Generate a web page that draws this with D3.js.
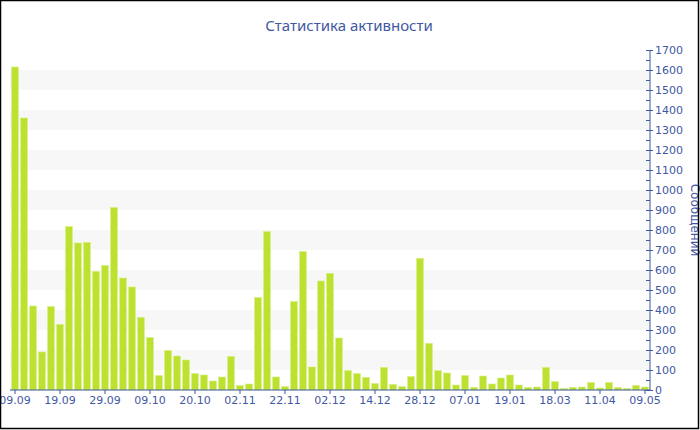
<!DOCTYPE html>
<html><head><meta charset="utf-8">
<script src="https://cdn.jsdelivr.net/npm/d3@7"></script>
<style>html,body{margin:0;padding:0;background:#fff;}svg{display:block;}</style>
</head><body>
<svg id="c" width="700" height="430"></svg>
<script>
const title = "Статистика активности";
const yTitle = "Сообщений";
const values = [1615,1360,420,190,417,328,817,735,738,593,623,912,560,515,363,262,72,197,170,150,82,75,45,65,168,22,30,462,792,65,17,442,692,115,545,583,260,97,82,63,32,113,28,17,67,658,233,97,85,25,72,13,70,30,60,75,25,13,15,113,42,7,13,15,38,10,38,12,8,23,15];
const tickLabels = ["09.09","19.09","29.09","09.10","20.10","02.11","22.11","02.12","14.12","28.12","07.01","19.01","18.03","11.04","09.05"];
const tickEvery = 5;
const yMax = 1700, yStep = 100;

const blue = "#3f58a3";
const svg = d3.select("#c");
const L = 10.5, R = 649.5, T = 50, B = 390;

const x = d3.scaleBand().domain(d3.range(values.length)).range([L, R]).paddingInner(0.25).paddingOuter(0.125);
const y = d3.scaleLinear().domain([0, yMax]).range([B, T]);

// stripes
const bands = d3.range(yStep, yMax - yStep, 2 * yStep);
svg.append("g").selectAll("rect").data(bands).join("rect")
  .attr("x", 10).attr("width", 640)
  .attr("y", d => y(d + yStep)).attr("height", d => y(d) - y(d + yStep))
  .attr("fill", "#f7f7f7");

// bars
svg.append("g").selectAll("rect").data(values).join("rect")
  .attr("x", (d, i) => x(i)).attr("width", x.bandwidth())
  .attr("y", d => y(d)).attr("height", d => B - y(d))
  .attr("fill", "#bde131").attr("stroke", "#d4ee7a").attr("stroke-width", 0.6);

// x axis
const tickIdx = tickLabels.map((t, k) => k * tickEvery);
const xAxis = d3.axisBottom(x).tickValues(tickIdx).tickFormat((d) => tickLabels[d / tickEvery]).tickSize(4).tickSizeOuter(0);
const gx = svg.append("g").attr("transform", `translate(0,${B})`).call(xAxis);
gx.select(".domain").attr("stroke", blue).attr("d", `M10,0H650`);
gx.selectAll(".tick line").attr("stroke", blue);
gx.selectAll(".tick text").attr("fill", blue).attr("font-family", "DejaVu Sans").attr("font-size", 11).attr("dy", "0.78em").attr("y", 5);

// y axis right
const gy = svg.append("g").attr("transform", `translate(650,0)`);
gy.append("line").attr("x1", 0).attr("x2", 0).attr("y1", T).attr("y2", B).attr("stroke", blue);
const minor = d3.range(yStep / 2, yMax, yStep);
gy.selectAll("line.minor").data(minor).join("line").attr("class", "minor")
  .attr("x1", -4).attr("x2", 0).attr("y1", d => Math.round(y(d)) + 0.5).attr("y2", d => Math.round(y(d)) + 0.5).attr("stroke", blue);
const yAxis = d3.axisRight(y).ticks(yMax / yStep).tickFormat(d3.format("d")).tickSize(3).tickPadding(2).tickSizeOuter(0);
const ga = gy.append("g").call(yAxis);
ga.select(".domain").remove();
ga.selectAll(".tick line").attr("stroke", blue).attr("x1", -4).attr("x2", 3);
ga.selectAll(".tick text").attr("fill", blue).attr("font-family", "DejaVu Sans").attr("font-size", 11).attr("x", 5);

// y title
svg.append("text").attr("transform", `translate(691,220) rotate(90)`)
  .attr("text-anchor", "middle").attr("fill", blue)
  .attr("font-family", "DejaVu Sans").attr("font-size", 12).text(yTitle);

// title
svg.append("text").attr("x", 349).attr("y", 31).attr("text-anchor", "middle")
  .attr("fill", blue).attr("font-family", "Noto Sans").attr("font-size", 15).text(title);

// frame
svg.append("rect").attr("x", 0.5).attr("y", 0.5).attr("width", 698).attr("height", 428)
  .attr("fill", "none").attr("stroke", "#000").attr("stroke-width", 1.5);
</script>
</body></html>
